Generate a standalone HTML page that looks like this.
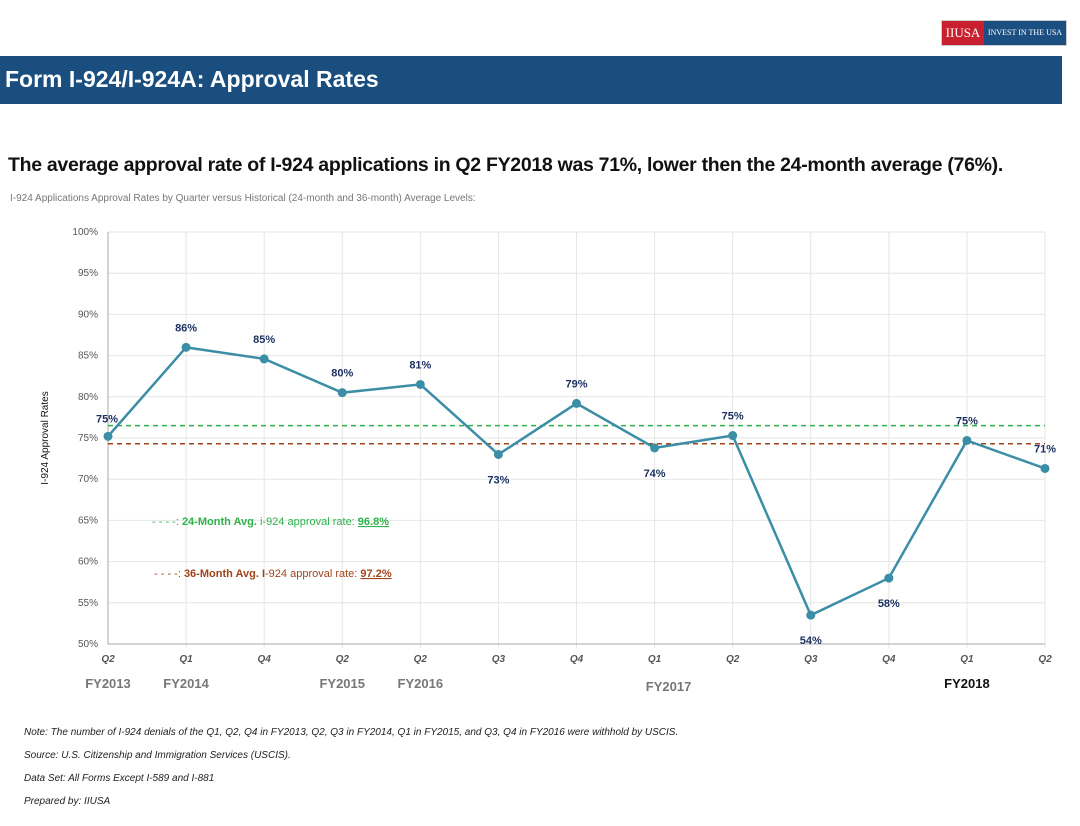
<!DOCTYPE html>
<html><head><meta charset="utf-8"><style>
body{margin:0;width:1080px;height:826px;background:#fff;font-family:"Liberation Sans",sans-serif;position:relative;overflow:hidden}
.abs{position:absolute}
</style></head><body>
<div class="abs" style="left:941px;top:20px;width:124px;height:24px;display:flex;border:1px solid #ccc">
 <div style="background:#c8202f;color:#fff;font-family:'Liberation Serif',serif;font-size:13px;width:42px;line-height:24px;text-align:center">IIUSA</div>
 <div style="background:#1b4f82;color:#fff;font-family:'Liberation Serif',serif;font-size:8px;flex:1;line-height:24px;text-align:center">INVEST IN THE USA</div>
</div>
<div class="abs" style="left:0;top:56px;width:1062px;height:48px;background:#1a4e7f"></div>
<div class="abs" style="left:5px;top:66px;color:#fff;font-weight:bold;font-size:23px;letter-spacing:0px">Form I-924/I-924A: Approval Rates</div>
<div class="abs" style="left:8px;top:154px;font-weight:bold;font-size:19.5px;color:#111;letter-spacing:-0.3px">The average approval rate of I-924 applications in Q2 FY2018 was 71%, lower then the 24-month average (76%).</div>
<div class="abs" style="left:10px;top:193px;font-size:10px;color:#777">I-924 Applications Approval Rates by Quarter versus Historical (24-month and 36-month) Average Levels:</div>
<svg class="abs" style="left:0;top:0" width="1080" height="826" id="chart"></svg>
<div class="abs" style="left:24px;top:721px;font-size:10px;font-style:italic;color:#222;line-height:23px">Note: The number of I-924 denials of the Q1, Q2, Q4 in FY2013, Q2, Q3 in FY2014, Q1 in FY2015, and Q3, Q4 in FY2016 were withhold by USCIS.<br>Source: U.S. Citizenship and Immigration Services (USCIS).<br>Data Set: All Forms Except I-589 and I-881<br>Prepared by: IIUSA</div>
<script>
const quarters=["Q2","Q1","Q4","Q2","Q2","Q3","Q4","Q1","Q2","Q3","Q4","Q1","Q2"];
const years=["FY2013","FY2014","","FY2015","FY2016","","","FY2017","","","","FY2018",""];
const rates=[75.2,86.0,84.6,80.5,81.5,73.0,79.2,73.8,75.3,53.5,58.0,74.7,71.3];
const labels=["75%","86%","85%","80%","81%","73%","79%","74%","75%","54%","58%","75%","71%"];
const below=[false,false,false,false,false,true,false,true,false,true,true,false,false];
const avg24=76.5, avg36=74.3;
const yTicks=[50,55,60,65,70,75,80,85,90,95,100];
const svg=document.getElementById('chart');
const NS='http://www.w3.org/2000/svg';
const x0=108,x1=1045,yTop=232,yBot=644;
const X=i=>x0+(x1-x0)*i/(rates.length-1);
const Y=v=>yBot-(v-50)/50*(yBot-yTop);
function mk(t,a,txt){const e=document.createElementNS(NS,t);for(const k in a)e.setAttribute(k,a[k]);if(txt!=null)e.textContent=txt;svg.appendChild(e);return e;}
yTicks.forEach(v=>{
 const g=mk('line',{x1:x0,x2:x1,y1:Y(v),y2:Y(v),stroke:'#e6e6e6'});
 
 
 const t=mk('text',{x:x0-10,y:Y(v)+3,'text-anchor':'end','font-size':10,fill:'#555'},v+'%');
 
 
});
rates.forEach((r,i)=>{
 if(i>0){const g=mk('line',{x1:X(i),x2:X(i),y1:yTop,y2:yBot+4,stroke:'#e6e6e6'});
 
 }
 const q=mk('text',{x:X(i),y:662,'text-anchor':'middle','font-size':10,'font-style':'italic','font-weight':'bold',fill:'#555'},quarters[i]);
 
 
 if(years[i]){const y=mk('text',{x:X(i)+(i==7?14:0),y:i==7?691:688,'text-anchor':'middle','font-size':13,'font-weight':'bold',fill:i==11?'#111':'#777'},years[i]);
 
 }
});
const ax=mk('path',{d:`M${x0},${yTop}V${yBot}H${x1}`,stroke:'#aaa',fill:'none'});


const yt=mk('text',{transform:`translate(48,438) rotate(-90)`,'text-anchor':'middle','font-size':10,fill:'#111'},'I-924 Approval Rates');


const l24=mk('line',{x1:x0,x2:x1,y1:Y(avg24),y2:Y(avg24),stroke:'#2db34a','stroke-width':1.5,'stroke-dasharray':'5,4'});


const l36=mk('line',{x1:x0,x2:x1,y1:Y(avg36),y2:Y(avg36),stroke:'#a0441a','stroke-width':1.5,'stroke-dasharray':'5,4'});


const pl=mk('polyline',{points:rates.map((r,i)=>X(i)+','+Y(r)).join(' '),fill:'none',stroke:'#3b8ea5','stroke-width':2.5});


rates.forEach((r,i)=>{
 const c=mk('circle',{cx:X(i),cy:Y(r),r:4.5,fill:'#3b8ea5'});
 
 
 const lx=i==0?X(i)-1:X(i), ly=below[i]?Y(r)+29:Y(r)-16;
 const t=mk('text',{x:lx,y:i==0?Y(r)-14:ly,'text-anchor':'middle','font-size':11,'font-weight':'bold',fill:'#1b2f5e'},labels[i]);
 
 
});
const lg1=mk('text',{x:152,y:525,'font-size':11,fill:'#2db34a'});


lg1.innerHTML='- - - -:  <tspan font-weight="bold">24-Month Avg.</tspan> i-924 approval rate: <tspan font-weight="bold" text-decoration="underline">96.8%</tspan>';
const lg2=mk('text',{x:154,y:577,'font-size':11,fill:'#a0441a'});


lg2.innerHTML='- - - -:  <tspan font-weight="bold">36-Month Avg. I</tspan>-924 approval rate: <tspan font-weight="bold" text-decoration="underline">97.2%</tspan>';
</script>
</body></html>
